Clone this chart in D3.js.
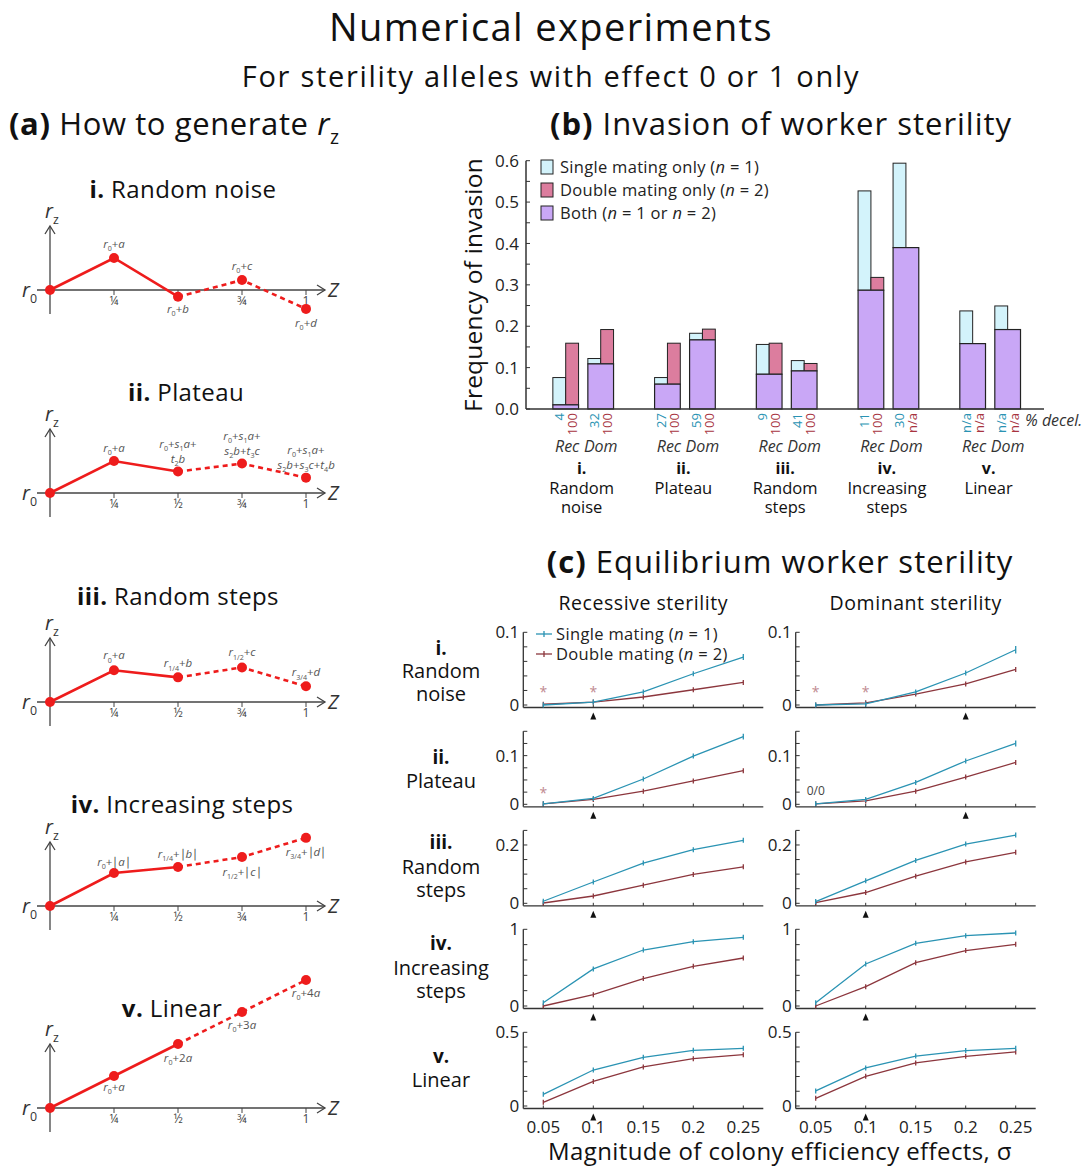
<!DOCTYPE html>
<html>
<head>
<meta charset="utf-8">
<script src="https://cdn.jsdelivr.net/npm/d3@7"></script>
<style>
  body { margin: 0; background: #fff; }
  svg { display: block; font-family: "Open Sans", sans-serif; }
</style>
</head>
<body>
<svg id="fig" width="1085" height="1166"></svg>
<script>
// ---------------- data ----------------
// (a) schematic r_z profiles, relative to r0 (one step = one unit)
const zSteps      = [0, 0.25, 0.5, 0.75, 1];
const zTickLabels = ['', '¼', '½', '¾', '1'];
const rNoise      = [0, 1.00, -0.21, 0.31, -0.59];
const rPlateau    = [0, 1.00, 0.67, 0.92, 0.48];
const rRandSteps  = [0, 0.99, 0.77, 1.08, 0.49];
const rIncSteps   = [0, 1.03, 1.22, 1.53, 2.13];
const rLinear     = [0, 1, 2, 3, 4];
const lblNoise    = ['*r*_{0}+*a*', '*r*_{0}+*b*', '*r*_{0}+*c*', '*r*_{0}+*d*'];
const lblPlateau  = ['*r*_{0}+*a*', '*r*_{0}+*s*_{1}*a*+|*t*_{2}*b*',
                     '*r*_{0}+*s*_{1}*a*+|*s*_{2}*b*+*t*_{3}*c*', '*r*_{0}+*s*_{1}*a*+|*s*_{2}*b*+*s*_{3}*c*+*t*_{4}*b*'];
const lblRandSteps= ['*r*_{0}+*a*', '*r*_{1/4}+*b*', '*r*_{1/2}+*c*', '*r*_{3/4}+*d*'];
const lblIncSteps = ['*r*_{0}+\u2223*a*\u2223', '*r*_{1/4}+\u2223*b*\u2223', '*r*_{1/2}+\u2223*c*\u2223', '*r*_{3/4}+\u2223*d*\u2223'];
const lblLinear   = ['*r*_{0}+*a*', '*r*_{0}+2*a*', '*r*_{0}+3*a*', '*r*_{0}+4*a*'];
const schemeNums  = ['i.', 'ii.', 'iii.', 'iv.', 'v.'];
const schemeNames = ['Random noise', 'Plateau', 'Random steps', 'Increasing steps', 'Linear'];

// (b) frequency of invasion
const groupNames    = [['Random', 'noise'], ['Plateau'], ['Random', 'steps'], ['Increasing', 'steps'], ['Linear']];
const bothRec       = [0.010, 0.060, 0.084, 0.287, 0.158];
const singleOnlyRec = [0.066, 0.016, 0.072, 0.240, 0.079];
const doubleOnlyRec = [0.149, 0.099, 0.075, 0.031, 0];
const bothDom       = [0.109, 0.167, 0.092, 0.390, 0.192];
const singleOnlyDom = [0.013, 0.016, 0.025, 0.204, 0.057];
const doubleOnlyDom = [0.083, 0.026, 0.018, 0, 0];
const decelRec      = [['4', '100'], ['27', '100'], ['9', '100'], ['11', '100'], ['n/a', 'n/a']];
const decelDom      = [['32', '100'], ['59', '100'], ['41', '100'], ['30', 'n/a'], ['n/a', 'n/a']];

// (c) equilibrium worker sterility
const sigma     = [0.05, 0.1, 0.15, 0.2, 0.25];
const recSingle = [[0, 0.004, 0.018, 0.043, 0.066],
                   [0.001, 0.012, 0.052, 0.099, 0.139],
                   [0.007, 0.073, 0.138, 0.184, 0.216],
                   [0.043, 0.483, 0.730, 0.839, 0.896],
                   [0.079, 0.244, 0.330, 0.378, 0.391]];
const recDouble = [[0.001, 0.004, 0.011, 0.021, 0.031],
                   [0.001, 0.010, 0.027, 0.048, 0.069],
                   [0.001, 0.025, 0.062, 0.099, 0.125],
                   [0.000, 0.148, 0.357, 0.517, 0.626],
                   [0.025, 0.167, 0.265, 0.321, 0.348]];
const domSingle = [[0, 0.0015, 0.018, 0.044, 0.076],
                   [0.001, 0.010, 0.045, 0.089, 0.125],
                   [0.006, 0.077, 0.147, 0.203, 0.234],
                   [0.043, 0.548, 0.817, 0.917, 0.952],
                   [0.102, 0.258, 0.339, 0.376, 0.391]];
const domDouble = [[0, 0.003, 0.015, 0.029, 0.049],
                   [0.001, 0.007, 0.027, 0.056, 0.086],
                   [0.002, 0.037, 0.093, 0.142, 0.175],
                   [0.000, 0.252, 0.565, 0.722, 0.804],
                   [0.052, 0.201, 0.292, 0.337, 0.367]];
const recSingleErr = [[0, 0, 0.001, 0.002, 0.004], [0, 0, 0.002, 0.004, 0.006], [0, 0, 0.004, 0.005, 0.006], [0, 0, 0, 0, 0], [0, 0, 0, 0.005, 0.006]];
const domSingleErr = [[0, 0, 0.001, 0.003, 0.005], [0, 0, 0.002, 0.004, 0.006], [0, 0, 0.004, 0.005, 0.007], [0, 0, 0, 0, 0], [0, 0.005, 0, 0.005, 0.006]];
const rowNums   = ['i.', 'ii.', 'iii.', 'iv.', 'v.'];
const rowNames  = [['Random', 'noise'], ['Plateau'], ['Random', 'steps'], ['Increasing', 'steps'], ['Linear']];
const rowMax    = [0.1, 0.15, 0.25, 1, 0.5];
const rowLabelTicks = [[0, 0.1], [0, 0.1], [0, 0.2], [0, 1], [0, 0.5]];
const rowMinorStep  = [0.02, 0.025, 0.05, 0.2, 0.1];
const recStars  = [[0.05, 0.1], [0.05], [], [], []];
const domStars  = [[0.05, 0.1], [], [], [], []];
const starLevel = [0.021, 0.029];
const recMark   = [0.1, 0.1, 0.1, 0.1, 0.1];
const domMark   = [0.2, 0.2, 0.1, 0.1, 0.1];

// ---------------- helpers ----------------
const svg = d3.select('#fig');
const RED = '#ee1c1c';
const BLUE = '#2a93b3';
const DRED = '#8c363d';

// markup: *..* italic, _{..} subscript
function rich(text, markup, size) {
    const segs = [];
    let it = false, sub = false, buf = '';
    const flush = () => { if (buf) segs.push({ t: buf, it, sub }); buf = ''; };
    for (let i = 0; i < markup.length; i++) {
        const c = markup[i];
        if (c === '*') { flush(); it = !it; }
        else if (c === '_' && markup[i + 1] === '{') { flush(); sub = true; i++; }
        else if (c === '}' && sub) { flush(); sub = false; }
        else buf += c;
    }
    flush();
    let prevSub = false;
    segs.forEach(s => {
        const ts = text.append('tspan').text(s.t)
            .attr('font-style', s.it ? 'italic' : 'normal')
            .attr('font-size', s.sub ? size * 0.62 : size);
        if (s.sub && !prevSub) ts.attr('dy', size * 0.28);
        if (!s.sub && prevSub) ts.attr('dy', -size * 0.28);
        prevSub = s.sub;
    });
    return text;
}

// ---------------- titles ----------------
svg.append('text').attr('x', 551).attr('y', 41).attr('text-anchor', 'middle')
    .attr('font-size', 38).attr('letter-spacing', 1.4).attr('fill', '#111').text('Numerical experiments');
svg.append('text').attr('x', 551).attr('y', 87).attr('text-anchor', 'middle')
    .attr('font-size', 29).attr('letter-spacing', 1.7).attr('fill', '#111').text('For sterility alleles with effect 0 or 1 only');

function header(x, y, tag, rest, anchor, ls) {
    const t = svg.append('text').attr('x', x).attr('y', y).attr('text-anchor', anchor)
        .attr('font-size', 31).attr('letter-spacing', ls).attr('fill', '#111');
    t.append('tspan').attr('font-weight', 700).text(tag);
    t.append('tspan').text(' ' + rest);
    return t;
}
const ha = header(9, 135, '(a)', 'How to generate ', 'start', 0.6);
rich(ha, '*r*_{z}', 31);
header(781, 135, '(b)', 'Invasion of worker sterility', 'middle', 1.0);
header(780, 573, '(c)', 'Equilibrium worker sterility', 'middle', 1.0);

// ---------------- (a) schematics ----------------
const profiles   = [rNoise, rPlateau, rRandSteps, rIncSteps, rLinear];
const profLabels = [lblNoise, lblPlateau, lblRandSteps, lblIncSteps, lblLinear];
const axisYs     = [290, 493, 702, 906, 1108];
const titleYs    = [198, 401, 605, 813, 1017];
const titleXs    = [183, 186, 178, 182, 172];
const hideTick   = [[0.5], [], [], [], []];
const lblOffset  = [[-14, 12, -14, 14], [-13, -13, -13, -13], [-15, -14, -15, -14], [-11, -13, 15, 14], [11, 14, 13, 13]];
const zx = d3.scaleLinear().domain([0, 1]).range([50, 306]);

profiles.forEach((prof, k) => {
    const ay = axisYs[k];
    const ry = d3.scaleLinear().domain([0, 1]).range([ay, ay - 32]);
    const g = svg.append('g');

    const tt = g.append('text').attr('x', titleXs[k]).attr('y', titleYs[k]).attr('text-anchor', 'middle')
        .attr('font-size', 24).attr('letter-spacing', 0.4).attr('fill', '#111');
    tt.append('tspan').attr('font-weight', 700).text(schemeNums[k]);
    tt.append('tspan').text(' ' + schemeNames[k]);

    // axes with open arrow heads
    const ax = '#444';
    g.append('line').attr('x1', 50).attr('x2', 50).attr('y1', ay + 24).attr('y2', ay - 64).attr('stroke', ax).attr('stroke-width', 1.3);
    g.append('path').attr('d', `M45,${ay - 56}L50,${ay - 64}L55,${ay - 56}`).attr('fill', 'none').attr('stroke', ax).attr('stroke-width', 1.3);
    g.append('line').attr('x1', 37).attr('x2', 325).attr('y1', ay).attr('y2', ay).attr('stroke', ax).attr('stroke-width', 1.3);
    g.append('path').attr('d', `M317,${ay - 5}L325,${ay}L317,${ay + 5}`).attr('fill', 'none').attr('stroke', ax).attr('stroke-width', 1.3);
    zSteps.slice(1).forEach((z, i) => {
        g.append('line').attr('x1', zx(z)).attr('x2', zx(z)).attr('y1', ay).attr('y2', ay + 5).attr('stroke', ax);
        if (!hideTick[k].includes(z)) g.append('text').attr('x', zx(z)).attr('y', ay + 15).attr('text-anchor', 'middle')
            .attr('font-size', 12).attr('fill', '#444').text(zTickLabels[i + 1]);
    });
    rich(g.append('text').attr('x', 45).attr('y', ay - 72).attr('fill', '#333'), '*r*_{z}', 20);
    rich(g.append('text').attr('x', 22).attr('y', ay + 7).attr('fill', '#333'), '*r*_{0}', 20);
    g.append('text').attr('x', 328).attr('y', ay + 7).attr('font-size', 20).attr('font-style', 'italic')
        .attr('fill', '#333').text('Z');

    // profile: solid up to z = 1/2, dashed after
    const pts = zSteps.map((z, i) => [zx(z), ry(prof[i])]);
    const solidEnd = 2;
    const line = d3.line();
    g.append('path').attr('d', line(pts.slice(0, solidEnd + 1))).attr('fill', 'none')
        .attr('stroke', RED).attr('stroke-width', 2.6);
    g.append('path').attr('d', line(pts.slice(solidEnd))).attr('fill', 'none')
        .attr('stroke', RED).attr('stroke-width', 2.6).attr('stroke-dasharray', '5,4');
    g.selectAll('circle').data(pts).join('circle')
        .attr('cx', d => d[0]).attr('cy', d => d[1]).attr('r', 5).attr('fill', RED);

    // point labels
    profLabels[k].forEach((lab, i) => {
        const lines = lab.split('|');
        const off = lblOffset[k][i];
        lines.forEach((ln, j) => {
            const dyLine = off < 0 ? off - (lines.length - 1 - j) * 15 : off + j * 15;
            const t = g.append('text').attr('x', pts[i + 1][0]).attr('y', pts[i + 1][1] + dyLine + 4)
                .attr('text-anchor', 'middle').attr('fill', '#555');
            rich(t, ln, 11.5);
        });
    });
});

// ---------------- (b) bars ----------------
const bx = d3.scaleBand().domain(d3.range(5)).range([532.3, 1041]);
const sub = d3.scalePoint().domain(['Rec', 'Dom']).range([33.4, 68.4]);
const by = d3.scaleLinear().domain([0, 0.6]).range([409, 160.7]);
const BW = 25.7;
const AXB = 526;
const C_SINGLE = '#d3f3fb', C_DOUBLE = '#dc7d9e', C_BOTH = '#c9a7f6';

const gb = svg.append('g');
gb.append('text').attr('transform', 'translate(473,285) rotate(-90)').attr('text-anchor', 'middle')
    .attr('font-size', 24.5).attr('letter-spacing', 0.2).attr('dy', '0.35em').attr('fill', '#111').text('Frequency of invasion');

const bars = [];
d3.range(5).forEach(k => {
    [['Rec', bothRec, singleOnlyRec, doubleOnlyRec, decelRec], ['Dom', bothDom, singleOnlyDom, doubleOnlyDom, decelDom]]
        .forEach(([kind, both, sOnly, dOnly, dec]) => {
            bars.push({ k, kind, both: both[k], s: sOnly[k], d: dOnly[k], dec: dec[k],
                x: bx(k) + sub(kind) - BW / 2 });
        });
});
bars.forEach(b => {
    const yb = by(b.both);
    if (b.s > 0) gb.append('rect').attr('x', b.x).attr('width', BW / 2).attr('y', by(b.both + b.s))
        .attr('height', yb - by(b.both + b.s)).attr('fill', C_SINGLE).attr('stroke', '#222').attr('stroke-width', 1);
    if (b.d > 0) gb.append('rect').attr('x', b.x + BW / 2).attr('width', BW / 2).attr('y', by(b.both + b.d))
        .attr('height', yb - by(b.both + b.d)).attr('fill', C_DOUBLE).attr('stroke', '#222').attr('stroke-width', 1);
    gb.append('rect').attr('x', b.x).attr('width', BW).attr('y', yb).attr('height', by(0) - yb)
        .attr('fill', C_BOTH).attr('stroke', '#222').attr('stroke-width', 1.2);
    // % decel. labels
    [[b.dec[0], BLUE, BW / 4], [b.dec[1], '#a8343f', 3 * BW / 4]].forEach(([t, c, dx]) => {
        gb.append('text').attr('transform', `translate(${b.x + dx},413) rotate(-90)`)
            .attr('text-anchor', 'end').attr('dy', '0.36em').attr('font-size', 13).attr('fill', c).text(t);
    });
    gb.append('text').attr('x', b.x + BW / 2 + (b.kind === 'Rec' ? 1.5 : 0)).attr('y', 452).attr('text-anchor', 'middle')
        .attr('font-size', 16).attr('font-style', 'italic').attr('fill', '#333').text(b.kind);
});

// axes
gb.append('line').attr('x1', AXB).attr('x2', AXB).attr('y1', by(0.6)).attr('y2', by(0)).attr('stroke', '#333').attr('stroke-width', 1.5);
gb.append('line').attr('x1', AXB).attr('x2', 1044).attr('y1', by(0)).attr('y2', by(0)).attr('stroke', '#333').attr('stroke-width', 1.5);
d3.range(0, 0.601, 0.05).forEach(v => {
    gb.append('line').attr('x1', AXB).attr('x2', AXB + 4).attr('y1', by(v)).attr('y2', by(v)).attr('stroke', '#333');
});
by.ticks(6).forEach(v => {
    gb.append('text').attr('x', AXB - 7).attr('y', by(v)).attr('dy', '0.36em').attr('text-anchor', 'end')
        .attr('font-size', 17).attr('fill', '#222').text(d3.format('.1f')(v));
});
gb.append('text').attr('x', 1025).attr('y', 426).attr('font-size', 16)
    .attr('font-style', 'italic').attr('fill', '#333').text('% decel.');

// group labels
d3.range(5).forEach(k => {
    const cx = bx(k) + bx.bandwidth() / 2 - 1.5;
    gb.append('text').attr('x', cx).attr('y', 474).attr('text-anchor', 'middle').attr('font-size', 16)
        .attr('font-weight', 700).attr('fill', '#111').text(schemeNums[k]);
    groupNames[k].forEach((n, j) => gb.append('text').attr('x', cx).attr('y', 494 + j * 19).attr('text-anchor', 'middle')
        .attr('font-size', 16.5).attr('fill', '#111').text(n));
});

// legend
const legItems = [[C_SINGLE, 'Single mating only (', '1'], [C_DOUBLE, 'Double mating only (', '2'], [C_BOTH, 'Both (', null]];
legItems.forEach(([c, t, n], i) => {
    const y = 167 + i * 23;
    gb.append('rect').attr('x', 541).attr('y', y - 7).attr('width', 12).attr('height', 14)
        .attr('fill', c).attr('stroke', '#222');
    const tx = gb.append('text').attr('x', 560).attr('y', y + 5.5).attr('font-size', 16.5)
        .attr('letter-spacing', 0.3).attr('fill', '#222');
    tx.append('tspan').text(t);
    if (n) {
        tx.append('tspan').attr('font-style', 'italic').text('n');
        tx.append('tspan').text(' = ' + n + ')');
    } else {
        tx.append('tspan').attr('font-style', 'italic').text('n');
        tx.append('tspan').text(' = 1 or ');
        tx.append('tspan').attr('font-style', 'italic').text('n');
        tx.append('tspan').text(' = 2)');
    }
});

// ---------------- (c) small multiples ----------------
const gc = svg.append('g');
const colX0 = [523.3, 795.7];
const colNames = ['Recessive sterility', 'Dominant sterility'];
const rowZero = [705, 804.3, 903.3, 1006, 1106];
const rowTopPx = [632.3, 731.3, 830.4, 929.3, 1032.3];
const rowLabelY = [[649, 671, 694], [758, 781], [843, 867, 890], [944, 968, 991], [1057, 1080]];

colNames.forEach((n, c) => gc.append('text').attr('x', colX0[c] + 120).attr('y', 610).attr('text-anchor', 'middle')
    .attr('font-size', 19.5).attr('letter-spacing', 0.55).attr('fill', '#111').text(n));

rowNums.forEach((num, r) => {
    const ly = rowLabelY[r];
    gc.append('text').attr('x', 441).attr('y', ly[0] + 6).attr('text-anchor', 'middle').attr('font-size', 19)
        .attr('font-weight', 700).attr('fill', '#111').text(num);
    rowNames[r].forEach((n, j) => gc.append('text').attr('x', 441).attr('y', ly[j + 1] + 7)
        .attr('text-anchor', 'middle').attr('font-size', 20).attr('fill', '#111').text(n));

    const y = d3.scaleLinear().domain([0, rowMax[r]]).range([rowZero[r], rowTopPx[r]]);
    [[recSingle, recDouble, recSingleErr, recStars, recMark], [domSingle, domDouble, domSingleErr, domStars, domMark]]
        .forEach(([sgl, dbl, err, stars, mark], c) => {
            const x = d3.scaleLinear().domain([0.03, 0.27]).range([colX0[c], colX0[c] + 240]);
            const g = gc.append('g');
            const base = y(0) + 2.5;
            g.append('line').attr('x1', x(0.03)).attr('x2', x(0.03)).attr('y1', y(rowMax[r])).attr('y2', base)
                .attr('stroke', '#333').attr('stroke-width', 1.3);
            g.append('line').attr('x1', x(0.03)).attr('x2', x(0.27)).attr('y1', base).attr('y2', base)
                .attr('stroke', '#333').attr('stroke-width', 1.3);
            d3.range(0, rowMax[r] + 1e-9, rowMinorStep[r]).forEach(v => g.append('line')
                .attr('x1', x(0.03)).attr('x2', x(0.03) + 4).attr('y1', y(v)).attr('y2', y(v)).attr('stroke', '#333'));
            rowLabelTicks[r].forEach(v => g.append('text').attr('x', x(0.03) - 4).attr('y', y(v)).attr('dy', '0.36em')
                .attr('text-anchor', 'end').attr('font-size', 17).attr('fill', '#222').text(v));
            sigma.forEach(s => g.append('line').attr('x1', x(s)).attr('x2', x(s)).attr('y1', base).attr('y2', base - 3)
                .attr('stroke', '#333'));
            if (r === 4) sigma.forEach(s => g.append('text').attr('x', x(s)).attr('y', base + 24)
                .attr('text-anchor', 'middle').attr('font-size', 17).attr('fill', '#222').text(s));
            // marker triangle
            const mx = x(mark[r]);
            g.append('path').attr('d', `M${mx - 3},${base + 12}L${mx},${base + 5}L${mx + 3},${base + 12}Z`).attr('fill', '#111');

            [[dbl[r], null, DRED], [sgl[r], err[r], BLUE]].forEach(([vals, e, col]) => {
                const pts = vals.map((v, i) => [x(sigma[i]), y(v)]);
                g.append('path').attr('d', d3.line()(pts)).attr('fill', 'none').attr('stroke', col).attr('stroke-width', 1.3);
                pts.forEach((p, i) => {
                    const h = Math.max(2.5, e ? y(0) - y(e[i]) : 0);
                    g.append('line').attr('x1', p[0]).attr('x2', p[0]).attr('y1', p[1] - h).attr('y2', p[1] + h)
                        .attr('stroke', col).attr('stroke-width', 1.3);
                });
            });
            stars[r].forEach(s => g.append('text').attr('x', x(s)).attr('y', y(starLevel[r])).attr('dy', '0.55em')
                .attr('text-anchor', 'middle').attr('font-size', 14).attr('fill', '#c08a90').text('*'));
            if (r === 1 && c === 1) g.append('text').attr('x', x(0.05)).attr('y', 791).attr('dy', '0.36em')
                .attr('text-anchor', 'middle').attr('font-size', 12).attr('fill', '#444').text('0/0');
        });
});

// (c) legend
[[BLUE, 'Single mating (', '1', 634], [DRED, 'Double mating (', '2', 654]].forEach(([c, t, n, yy]) => {
    gc.append('line').attr('x1', 536).attr('x2', 552).attr('y1', yy).attr('y2', yy).attr('stroke', c).attr('stroke-width', 1.3);
    gc.append('line').attr('x1', 544).attr('x2', 544).attr('y1', yy - 3).attr('y2', yy + 3).attr('stroke', c).attr('stroke-width', 1.3);
    const tx = gc.append('text').attr('x', 556).attr('y', yy + 5.5).attr('font-size', 16.5)
        .attr('letter-spacing', 0.35).attr('fill', '#222');
    tx.append('tspan').text(t);
    tx.append('tspan').attr('font-style', 'italic').text('n');
    tx.append('tspan').text(' = ' + n + ')');
});

svg.append('text').attr('x', 780).attr('y', 1160).attr('text-anchor', 'middle').attr('font-size', 24)
    .attr('letter-spacing', 0.4).attr('fill', '#111').text('Magnitude of colony efficiency effects, σ');
</script>
</body>
</html>
